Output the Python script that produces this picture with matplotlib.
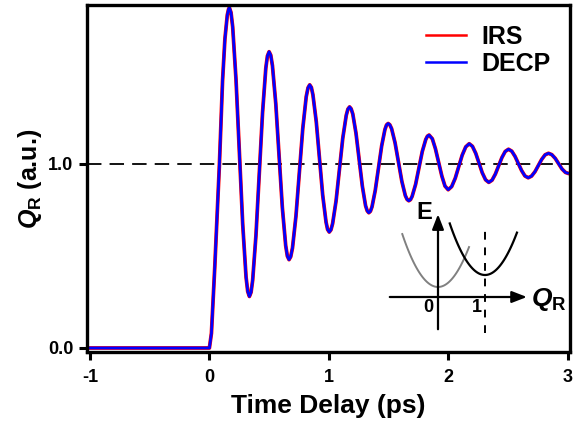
import matplotlib
matplotlib.use('Agg')
import matplotlib.pyplot as plt
import numpy as np

plt.rcParams['font.family'] = ['Liberation Sans', 'DejaVu Sans']
plt.rcParams['font.weight'] = 'bold'
plt.rcParams['mathtext.fontset'] = 'custom'
plt.rcParams['mathtext.rm'] = 'Liberation Sans:bold'
plt.rcParams['mathtext.it'] = 'Liberation Sans:bold:italic'
plt.rcParams['mathtext.bf'] = 'Liberation Sans:bold'

# time delay (ps) and Q_R (a.u.)
time_ps = [-1.0, 0.0, 0.017, 0.045, 0.084, 0.11, 0.13, 0.15, 0.16,
           0.167, 0.181, 0.195, 0.223, 0.251, 0.279, 0.307, 0.321,
           0.335, 0.349, 0.3625, 0.390, 0.4175, 0.445, 0.4725, 0.486,
           0.500, 0.514, 0.528, 0.556, 0.5835, 0.611, 0.639, 0.653,
           0.667, 0.681, 0.696, 0.725, 0.7535, 0.782, 0.811, 0.826,
           0.840, 0.854, 0.867, 0.895, 0.922, 0.949, 0.977, 0.990,
           1.004, 1.018, 1.032, 1.061, 1.089, 1.117, 1.146, 1.160,
           1.174, 1.187, 1.201, 1.228, 1.2545, 1.281, 1.308, 1.322,
           1.335, 1.3485, 1.362, 1.389, 1.416, 1.443, 1.470, 1.4835,
           1.497, 1.511, 1.526, 1.555, 1.5835, 1.612, 1.641, 1.656,
           1.670, 1.684, 1.698, 1.727, 1.755, 1.783, 1.812, 1.826,
           1.840, 1.867, 1.893, 1.920, 1.947, 1.973,
           2.000, 2.029, 2.059, 2.088, 2.117, 2.147,
           2.176, 2.203, 2.231, 2.258, 2.285, 2.313,
           2.340, 2.3675, 2.395, 2.4225, 2.450, 2.4775,
           2.505, 2.5325, 2.560, 2.5875, 2.615, 2.6425,
           2.670, 2.698, 2.727, 2.755, 2.783, 2.812,
           2.840, 2.868, 2.897, 2.925, 2.953, 2.982, 3.000]

irs_q = [0.0, 0.0, 0.08, 0.44, 1.0, 1.45, 1.68, 1.81, 1.84,
         1.85, 1.823, 1.745, 1.457, 1.065, 0.672, 0.385, 0.307,
         0.28, 0.303, 0.369, 0.6125, 0.945, 1.2775, 1.521, 1.587,
         1.61, 1.591, 1.534, 1.3275, 1.045, 0.7625, 0.556, 0.499,
         0.48, 0.496, 0.544, 0.7175, 0.955, 1.1925, 1.366, 1.414,
         1.43, 1.416, 1.376, 1.23, 1.03, 0.83, 0.684, 0.644,
         0.63, 0.642, 0.676, 0.80, 0.97, 1.14, 1.264, 1.298,
         1.31, 1.300, 1.2715, 1.166, 1.0225, 0.879, 0.773, 0.745,
         0.735, 0.743, 0.7675, 0.856, 0.9775, 1.099, 1.187, 1.212,
         1.22, 1.213, 1.192, 1.115, 1.01, 0.905, 0.828, 0.807,
         0.80, 0.806, 0.824, 0.889, 0.9785, 1.068, 1.133, 1.151,
         1.157, 1.137, 1.083, 1.0085, 0.934, 0.880,
         0.86, 0.877, 0.9225, 0.985, 1.0475, 1.093,
         1.11, 1.096, 1.0575, 1.005, 0.9525, 0.914,
         0.90, 0.912, 0.945, 0.99, 1.035, 1.068,
         1.08, 1.0695, 1.041, 1.0025, 0.964, 0.935,
         0.925, 0.934, 0.9583, 0.9915, 1.0248, 1.050,
         1.058, 1.0505, 1.030, 1.0015, 0.973, 0.954, 0.950]

# DECP curve lies on top of IRS within line width
decp_q = list(irs_q)

fig = plt.figure(figsize=(5.74, 4.33), dpi=100)
ax = fig.add_axes([0.1516, 0.187, 0.8414, 0.8015])

ax.plot(time_ps, irs_q, color='red', lw=2.7, label='IRS', solid_joinstyle='round')
ax.plot(time_ps, decp_q, color='blue', lw=2.0, label='DECP', solid_joinstyle='round')
ax.axhline(1.0, color='black', lw=1.3, ls=(0, (8, 4.5)), zorder=1)

ax.set_xlim(-1.025, 3.02)
ax.set_ylim(-0.022, 1.864)
ax.set_xticks([-1, 0, 1, 2, 3])
ax.set_xticklabels(['-1', '0', '1', '2', '3'])
ax.set_yticks([0.0, 1.0])
ax.set_yticklabels(['0.0', '1.0'])
ax.tick_params(direction='out', length=6, width=2.2, labelsize=13, pad=4)
ax.tick_params(axis='x', pad=6)
for s in ax.spines.values():
    s.set_linewidth(2.4)

ax.set_xlabel('Time Delay (ps)', fontsize=19, fontweight='bold', labelpad=6)
ax.set_ylabel(r'$Q_{\mathrm{R}}$ (a.u.)', fontsize=18, fontweight='bold', labelpad=3)

leg = ax.legend(loc='upper right', frameon=False, fontsize=18, handlelength=1.6,
                handletextpad=0.6, borderaxespad=0.2, labelspacing=0.1,
                bbox_to_anchor=(0.99, 0.985))
for line in leg.get_lines():
    line.set_linewidth(1.8)

# inset: potential energy schematic
W, H = 574.0, 433.0
px = 47.0
x0, x1, y0, y1 = 385, 575, 205, 340
ins = fig.add_axes([x0 / W, 1 - y1 / H, (x1 - x0) / W, (y1 - y0) / H])
ins.set_xlim((x0 - 438) / px, (x1 - 438) / px)
ins.set_ylim((297 - y1) / px, (297 - y0) / px)
ins.axis('off')
ins.patch.set_alpha(0)

ins.annotate('', xy=(1.95, 0), xytext=(-1.085, 0),
             arrowprops=dict(arrowstyle='-|>,head_length=0.9,head_width=0.35', lw=1.6, color='black'))
ins.annotate('', xy=(0, 1.82), xytext=(0, -0.745),
             arrowprops=dict(arrowstyle='-|>,head_length=0.9,head_width=0.35', lw=1.6, color='black'))

k = 1.95
qg = np.linspace(-0.76, 0.66, 60)
ins.plot(qg, 0.213 + k * qg ** 2, color='gray', lw=1.4)
qb = np.linspace(0.25, 1.68, 60)
ins.plot(qb, 0.468 + k * (qb - 1.0) ** 2, color='black', lw=1.6)
ins.plot([1.0, 1.0], [-0.766, 1.53], color='black', lw=1.4, ls=(0, (4, 4)))

ins.text(-0.21, -0.23, '0', fontsize=13, fontweight='bold', ha='center', va='center')
ins.text(0.83, -0.23, '1', fontsize=13, fontweight='bold', ha='center', va='center')
ins.text(-0.3, 1.80, 'E', fontsize=17, fontweight='bold', ha='center', va='center')
ins.text(1.98, -0.05, r'$Q_{\mathrm{R}}$', fontsize=19, ha='left', va='center')

fig.savefig('out.png', dpi=100)
